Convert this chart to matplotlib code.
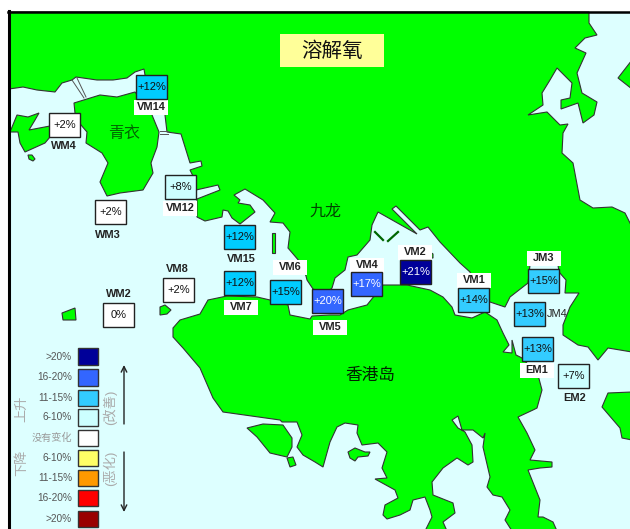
from matplotlib import use as setRenderingBackend
setRenderingBackend('Agg')

from matplotlib import pyplot as plt
from matplotlib.patches import Polygon, Rectangle

plt.rcParams['font.family'] = ['Liberation Sans', 'Noto Sans CJK SC', 'DejaVu Sans']

LAND = '#00ff00'
WATER = '#ddffff'
COAST = '#333333'

# stations: name, change in %, box corners
names = ['VM14', 'WM4', 'WM3', 'VM12', 'VM15', 'VM7', 'VM6', 'VM5', 'VM4', 'VM2',
         'VM1', 'JM3', 'JM4', 'EM1', 'EM2', 'WM2', 'VM8']
changes = [12, 2, 2, 8, 12, 12, 15, 20, 17, 21, 14, 15, 13, 13, 7, 0, 2]
box_x = [136, 49, 95, 165, 224, 224, 270, 312, 351, 400, 458, 528, 514, 522, 558, 103, 163]
box_y = [75, 113, 200, 175, 225, 271, 280, 289, 272, 260, 288, 269, 302, 337, 364, 303, 278]
box_colors = ['#00ccff', '#ffffff', '#ffffff', '#ccffff', '#00ccff', '#00ccff', '#00ccff',
              '#3366ff', '#3366ff', '#000099', '#33ccff', '#33ccff', '#33ccff', '#33ccff',
              '#ccffff', '#ffffff', '#ffffff']
text_colors = ['#111111'] * 7 + ['white', 'white', 'white'] + ['#111111'] * 7
label_x = [151, 64, 108, 180, 241, 241, 290, 330, 367, 415, 474, 544, 557, 537, 575, 119, 177]
label_y = [107, 146, 235, 208, 259, 307, 267, 327, 265, 252, 280, 258, 314, 370, 398, 294, 269]
label_bg = [True, False, False, True, False, True, True, True, True, True,
            True, True, False, True, False, False, False]

# legend
legend_labels = ['>20%', '16-20%', '11-15%', '6-10%', '没有变化', '6-10%', '11-15%', '16-20%', '>20%']
legend_colors = ['#000099', '#3366ff', '#33ccff', '#ccffff', '#ffffff', '#ffff66', '#ff9900', '#ff0000', '#990000']
legend_top = [348, 369, 390, 409, 430, 450, 470, 490, 511]
legend_bottom = [365, 386, 406, 426, 446, 466, 486, 506, 527]

# coastlines, picture pixels
mainland = [(9, 12), (589, 12), (589, 23), (597, 35), (585, 38), (575, 48), (586, 53), (577, 73),
            (582, 93), (597, 102), (594, 115), (583, 123), (578, 103), (561, 109), (561, 100),
            (570, 98), (572, 83), (557, 68), (550, 80), (542, 93), (543, 105), (528, 115),
            (547, 112), (560, 125), (568, 124), (563, 133), (562, 153), (573, 163), (580, 200),
            (593, 208), (612, 207), (625, 213), (632, 227), (632, 352), (608, 348), (598, 360),
            (588, 347), (578, 345), (563, 335), (563, 325), (570, 307), (579, 293), (565, 293),
            (566, 280), (559, 272), (558, 265), (530, 265), (528, 283), (510, 297), (505, 307),
            (490, 302), (475, 290), (470, 272), (460, 263), (440, 242), (428, 227), (420, 230),
            (396, 206), (392, 209), (417, 234), (378, 212), (372, 225), (370, 240), (357, 255),
            (348, 257), (345, 270), (335, 278), (332, 288), (325, 295), (313, 289), (307, 280),
            (306, 276), (300, 262), (288, 248), (290, 232), (283, 223), (270, 222), (275, 213),
            (263, 200), (245, 189), (234, 195), (240, 200), (238, 203), (250, 205), (255, 212),
            (240, 224), (232, 218), (228, 211), (223, 210), (222, 217), (205, 221), (197, 217),
            (197, 199), (220, 190), (218, 185), (196, 190), (195, 180), (190, 170), (202, 166),
            (201, 161), (190, 163), (181, 134), (167, 132), (165, 115), (166, 99), (145, 75),
            (144, 69), (135, 72), (127, 78), (113, 80), (97, 80), (76, 77), (72, 80), (62, 83),
            (55, 92), (37, 90), (23, 87), (9, 89)]
hk_island = [(173, 328), (180, 320), (200, 314), (208, 300), (227, 296), (257, 297), (270, 300),
             (288, 305), (290, 315), (310, 319), (312, 316), (330, 315), (340, 315), (348, 310),
             (367, 305), (383, 285), (407, 285), (430, 290), (443, 297), (452, 307), (455, 315),
             (472, 318), (485, 312), (497, 320), (503, 333), (509, 345), (503, 352), (512, 353),
             (512, 340), (516, 355), (522, 358), (538, 375), (542, 390), (537, 408), (533, 410),
             (518, 417), (527, 433), (535, 450), (530, 460), (552, 462), (552, 467), (540, 468),
             (528, 470), (540, 500), (538, 517), (543, 517), (553, 522), (557, 531), (512, 531),
             (505, 520), (510, 510), (502, 497), (493, 495), (487, 487), (490, 477), (483, 447),
             (485, 433), (483, 438), (473, 430), (462, 430), (458, 416), (452, 420), (458, 428),
             (465, 432), (472, 445), (473, 462), (468, 465), (457, 458), (443, 468), (432, 482),
             (433, 495), (453, 503), (455, 513), (443, 522), (447, 531), (425, 531), (432, 517),
             (430, 510), (425, 497), (413, 500), (410, 510), (400, 515), (387, 519), (383, 515),
             (385, 505), (398, 498), (395, 490), (375, 479), (387, 478), (382, 468), (387, 452),
             (378, 443), (362, 445), (357, 433), (358, 425), (345, 423), (337, 427), (330, 442),
             (323, 467), (315, 462), (303, 455), (297, 447), (302, 435), (297, 422), (282, 422),
             (280, 420), (223, 412), (213, 398), (200, 368), (183, 348), (173, 337)]
tsing_yi = [(74, 103), (100, 95), (117, 97), (135, 92), (152, 115), (159, 132), (157, 147), (151, 163),
            (153, 173), (143, 190), (120, 193), (107, 196), (100, 182), (108, 163), (102, 153),
            (86, 143), (87, 132), (81, 125), (75, 113)]
ma_wan = [(17, 115), (28, 117), (39, 113), (35, 120), (29, 130), (50, 126), (50, 137), (45, 143),
          (25, 152), (20, 143), (18, 132), (10, 132)]
islets = [[(28, 155), (32, 155), (35, 159), (33, 161), (29, 159)],
          [(62, 313), (75, 308), (76, 320), (63, 320)],
          [(160, 307), (165, 305), (171, 310), (167, 314), (160, 315)],
          [(247, 428), (263, 424), (283, 425), (292, 438), (292, 447), (287, 457), (270, 453), (257, 437)],
          [(287, 458), (293, 457), (296, 465), (290, 467)],
          [(348, 452), (355, 448), (365, 452), (370, 452), (368, 456), (358, 457), (355, 461), (350, 458)],
          [(632, 60), (618, 78), (632, 89)],
          [(632, 392), (608, 393), (602, 407), (620, 428), (622, 438), (632, 440)],
          [(272, 233), (275, 233), (275, 253), (272, 253)],
          [(430, 252), (433, 254), (433, 258), (430, 258)]]

bridge_lines = [[(72, 80), (84, 98)], [(77, 78), (86, 97)], [(160, 131), (168, 131)], [(160, 134), (168, 134)]]
kai_tak_dashes = [[(375, 232), (383, 240)], [(388, 241), (398, 232)]]


def draw_land(ax):
    for shape in [mainland, hk_island, tsing_yi, ma_wan] + islets:
        ax.add_patch(Polygon(shape, closed=True, facecolor=LAND, edgecolor=COAST, linewidth=0.8, zorder=2))
    for (x0, y0), (x1, y1) in bridge_lines:
        ax.plot([x0, x1], [y0, y1], color='#555555', lw=0.7, zorder=3)
    for (x0, y0), (x1, y1) in kai_tak_dashes:
        ax.plot([x0, x1], [y0, y1], color='#006600', lw=1.6, zorder=3)


def draw_stations(ax):
    for i, name in enumerate(names):
        ax.add_patch(Rectangle((box_x[i], box_y[i]), 31, 24, facecolor=box_colors[i],
                               edgecolor='#222222', linewidth=1, zorder=5))
        change = '{}%'.format(changes[i]) if changes[i] == 0 else '+{}%'.format(changes[i])
        ax.text(box_x[i] + 15.5, box_y[i] + 12, change, color=text_colors[i], fontsize=8,
                ha='center', va='center', zorder=6)
        if label_bg[i]:
            ax.add_patch(Rectangle((label_x[i] - 17, label_y[i] - 7.5), 34, 15,
                                   facecolor='white', edgecolor='none', zorder=4))
        weight = 'normal' if name == 'JM4' else 'bold'
        ax.text(label_x[i], label_y[i], name, color='#222222', fontsize=7.9, fontweight=weight,
                ha='center', va='center', zorder=6)


def draw_legend(ax):
    for i, text in enumerate(legend_labels):
        ax.add_patch(Rectangle((77.5, legend_top[i]), 20.5, legend_bottom[i] - legend_top[i],
                               facecolor=legend_colors[i], edgecolor='#333333', linewidth=1, zorder=5))
        color = '#999999' if i == 4 else '#555555'
        ax.text(72, (legend_top[i] + legend_bottom[i]) / 2., text, color=color, fontsize=7.3,
                ha='right', va='center', zorder=6)
    for text, x, y in [('上升', 22, 409), ('下降', 22, 463), ('(改善)', 110, 407), ('(恶化)', 110, 468)]:
        ax.text(x, y, text, color='#aaaaaa', fontsize=9.5, rotation=90, ha='center', va='center', zorder=6)
    for start, end in [(424, 365), (452, 512)]:
        ax.annotate('', xy=(124, end), xytext=(124, start), zorder=6,
                    arrowprops=dict(arrowstyle='->', color='#222222', lw=1, shrinkA=0, shrinkB=0))


def main():
    fig = plt.figure(figsize=(6.3, 5.29), dpi=100)
    ax = fig.add_axes([0, 0, 1, 1])
    ax.set_xlim(0, 630)
    ax.set_ylim(529, 0)
    ax.axis('off')

    ax.add_patch(Rectangle((9, 12), 625, 520, facecolor=WATER, edgecolor='none', zorder=1))
    draw_land(ax)
    draw_stations(ax)
    draw_legend(ax)

    ax.plot([9, 9], [11, 529], color='black', lw=2.2, zorder=7)
    ax.plot([8, 630], [12, 12], color='black', lw=1.8, zorder=7)

    ax.add_patch(Rectangle((280, 34), 104, 33, facecolor='#ffff99', edgecolor='none', zorder=5))
    ax.text(332, 51, '溶解氧', fontsize=14.8, color='#111111', ha='center', va='center', zorder=6)
    ax.text(124, 133, '青衣', fontsize=11.5, color='#006600', ha='center', va='center', zorder=6)
    ax.text(325, 211, '九龙', fontsize=11.5, color='#004400', ha='center', va='center', zorder=6)
    ax.text(370, 375, '香港岛', fontsize=12, color='#002200', ha='center', va='center', zorder=6)

    fig.savefig('out.png', dpi=100)
    plt.close(fig)


if __name__ == '__main__':
    main()
